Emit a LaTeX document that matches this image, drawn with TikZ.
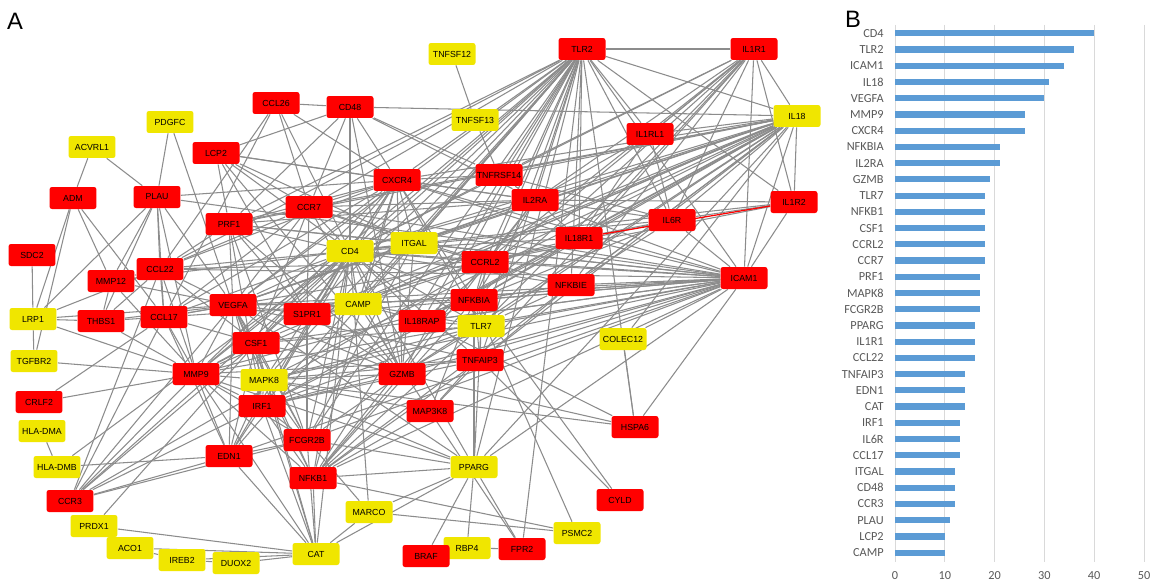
\documentclass[tikz,border=0pt]{standalone}
\usepackage{fontspec}
\usetikzlibrary{backgrounds}
\newfontfamily\netfont{Liberation Sans}
\newfontfamily\barfont{Carlito}
\definecolor{netred}{RGB}{255,0,0}
\definecolor{netyellow}{RGB}{240,230,0}
\definecolor{netgray}{RGB}{140,140,140}
\definecolor{barblue}{RGB}{91,155,213}
\definecolor{gridgray}{RGB}{217,217,217}
\definecolor{labgray}{RGB}{89,89,89}
\tikzset{
  gnode/.style={rectangle, rounded corners=0.05cm, minimum width=0.94cm, minimum height=0.44cm, inner sep=0pt, font=\netfont\fontsize{5pt}{6pt}\selectfont, text=black},
  rnode/.style={gnode, fill=netred},
  ynode/.style={gnode, fill=netyellow},
  netedge/.style={draw=netgray, line width=0.6pt},
  rededge/.style={draw=netred, line width=0.7pt},
  barlab/.style={font=\barfont\fontsize{7pt}{8pt}\selectfont, text=labgray, inner sep=0pt},
  gridline/.style={draw=gridgray, line width=0.5pt},
  panel/.style={font=\netfont\fontsize{13.5pt}{15pt}\selectfont, inner sep=0pt}
}
\begin{document}
\begin{tikzpicture}[x=0.02cm,y=-0.02cm]
\useasboundingbox (0,0) rectangle (1151,581);
\node[panel] (pA) at (15,21) {A};
\node[panel] (pB) at (853,19) {B};
% ---------- nodes ----------
\node[ynode] (TNFSF12) at (452,54) {TNFSF12};
\node[rnode] (TLR2) at (582,49) {TLR2};
\node[rnode] (IL1R1) at (754,49) {IL1R1};
\node[ynode] (PDGFC) at (170,122) {PDGFC};
\node[rnode] (CCL26) at (276,103) {CCL26};
\node[rnode] (CD48) at (350,107) {CD48};
\node[ynode] (TNFSF13) at (475,120) {TNFSF13};
\node[ynode] (IL18) at (797,116) {IL18};
\node[rnode] (IL1RL1) at (650,134) {IL1RL1};
\node[ynode] (ACVRL1) at (92,147) {ACVRL1};
\node[rnode] (LCP2) at (216,153) {LCP2};
\node[rnode] (CXCR4) at (397,180) {CXCR4};
\node[rnode] (TNFRSF14) at (499,175) {TNFRSF14};
\node[rnode] (ADM) at (73,198) {ADM};
\node[rnode] (PLAU) at (157,197) {PLAU};
\node[rnode] (PRF1) at (229,224) {PRF1};
\node[rnode] (CCR7) at (309,207) {CCR7};
\node[rnode] (IL2RA) at (535,200) {IL2RA};
\node[rnode] (IL6R) at (672,220) {IL6R};
\node[rnode] (IL1R2) at (794,202) {IL1R2};
\node[rnode] (IL18R1) at (579,238) {IL18R1};
\node[ynode] (CD4) at (350,251) {CD4};
\node[ynode] (ITGAL) at (414,243) {ITGAL};
\node[rnode] (SDC2) at (32,255) {SDC2};
\node[rnode] (CCL22) at (160,269) {CCL22};
\node[rnode] (MMP12) at (111,281) {MMP12};
\node[rnode] (CCRL2) at (485,262) {CCRL2};
\node[rnode] (ICAM1) at (744,278) {ICAM1};
\node[rnode] (NFKBIE) at (571,285) {NFKBIE};
\node[ynode] (CAMP) at (358,304) {CAMP};
\node[rnode] (NFKBIA) at (474,300) {NFKBIA};
\node[rnode] (VEGFA) at (233,305) {VEGFA};
\node[rnode] (S1PR1) at (307,314) {S1PR1};
\node[ynode] (LRP1) at (33,319) {LRP1};
\node[rnode] (THBS1) at (101,321) {THBS1};
\node[rnode] (CCL17) at (164,317) {CCL17};
\node[rnode] (IL18RAP) at (422,321) {IL18RAP};
\node[ynode] (TLR7) at (481,326) {TLR7};
\node[ynode] (COLEC12) at (623,339) {COLEC12};
\node[rnode] (TNFAIP3) at (480,360) {TNFAIP3};
\node[ynode] (TGFBR2) at (34,361) {TGFBR2};
\node[rnode] (CSF1) at (256,343) {CSF1};
\node[rnode] (MMP9) at (196,374) {MMP9};
\node[ynode] (MAPK8) at (264,380) {MAPK8};
\node[rnode] (GZMB) at (402,374) {GZMB};
\node[rnode] (CRLF2) at (39,402) {CRLF2};
\node[rnode] (IRF1) at (262,406) {IRF1};
\node[rnode] (MAP3K8) at (430,411) {MAP3K8};
\node[rnode] (HSPA6) at (635,427) {HSPA6};
\node[ynode] (HLADMA) at (42,431) {HLA-DMA};
\node[rnode] (FCGR2B) at (307,440) {FCGR2B};
\node[rnode] (EDN1) at (229,456) {EDN1};
\node[ynode] (HLADMB) at (57,467) {HLA-DMB};
\node[rnode] (NFKB1) at (313,478) {NFKB1};
\node[ynode] (PPARG) at (474,467) {PPARG};
\node[rnode] (CCR3) at (70,501) {CCR3};
\node[rnode] (CYLD) at (620,500) {CYLD};
\node[ynode] (MARCO) at (369,512) {MARCO};
\node[ynode] (PRDX1) at (94,526) {PRDX1};
\node[ynode] (PSMC2) at (577,533) {PSMC2};
\node[ynode] (ACO1) at (130,548) {ACO1};
\node[ynode] (IREB2) at (182,560) {IREB2};
\node[ynode] (DUOX2) at (236,563) {DUOX2};
\node[ynode] (CAT) at (316,554) {CAT};
\node[ynode] (RBP4) at (467,548) {RBP4};
\node[rnode] (BRAF) at (426,556) {BRAF};
\node[rnode] (FPR2) at (522,549) {FPR2};
% ---------- edges ----------
\begin{pgfonlayer}{background}
\fill[white] (0,0) rectangle (1151,581);
\foreach \a/\b in {%
TLR2/IL1R1, TLR2/IL18, TLR2/IL1RL1, TLR2/IL1R2, TLR2/ICAM1, TLR2/IL6R, TLR2/IL18R1, TLR2/IL2RA, TLR2/TNFRSF14, TLR2/CXCR4, TLR2/CCR7, TLR2/PRF1, TLR2/CD4, TLR2/ITGAL, TLR2/CCRL2, TLR2/NFKBIA, TLR2/NFKBIE, TLR2/VEGFA, TLR2/CAMP, TLR2/S1PR1, TLR2/IL18RAP, TLR2/TLR7, TLR2/TNFAIP3, TLR2/CSF1, TLR2/MMP9, TLR2/MAPK8, TLR2/GZMB, TLR2/IRF1, TLR2/FCGR2B, TLR2/NFKB1, TLR2/EDN1, TLR2/PPARG, TLR2/FPR2, TLR2/HSPA6, TLR2/CCL22,
CD4/ICAM1, CD4/IL18, CD4/IL1R1, CD4/ITGAL, CD4/CD48, CD4/CXCR4, CD4/CCR7, CD4/LCP2, CD4/PRF1, CD4/CCL26, CD4/CCL22, CD4/CCL17, CD4/VEGFA, CD4/CSF1, CD4/MMP9, CD4/S1PR1, CD4/CAMP, CD4/IL2RA, CD4/IL18R1, CD4/IL18RAP, CD4/TLR7, CD4/CCRL2, CD4/NFKBIA, CD4/GZMB, CD4/TNFAIP3, CD4/IRF1, CD4/MAPK8, CD4/FCGR2B, CD4/NFKB1, CD4/EDN1, CD4/PPARG, CD4/CCR3, CD4/IL6R, CD4/IL1R2, CD4/NFKBIE, CD4/TNFRSF14, CD4/MARCO, CD4/CAT, CD4/MMP12, CD4/HLADMB,
ICAM1/IL18, ICAM1/IL1R1, ICAM1/IL1R2, ICAM1/IL6R, ICAM1/IL18R1, ICAM1/ITGAL, ICAM1/VEGFA, ICAM1/CCRL2, ICAM1/NFKBIA, ICAM1/NFKBIE, ICAM1/TLR7, ICAM1/IL18RAP, ICAM1/CAMP, ICAM1/S1PR1, ICAM1/MMP9, ICAM1/CSF1, ICAM1/CCL22, ICAM1/CCL17, ICAM1/GZMB, ICAM1/TNFAIP3, ICAM1/COLEC12, ICAM1/PPARG, ICAM1/NFKB1, ICAM1/EDN1, ICAM1/FCGR2B, ICAM1/IRF1, ICAM1/CXCR4, ICAM1/CCR7, ICAM1/PRF1, ICAM1/IL2RA, ICAM1/MAPK8, ICAM1/HSPA6,
IL18/IL1R1, IL18/IL1RL1, IL18/IL18R1, IL18/IL18RAP, IL18/IL2RA, IL18/CCRL2, IL18/NFKBIA, IL18/ITGAL, IL18/CXCR4, IL18/CCR7, IL18/IL1R2, IL18/IL6R, IL18/NFKBIE, IL18/TNFRSF14, IL18/VEGFA, IL18/PRF1, IL18/CSF1, IL18/GZMB, IL18/TLR7, IL18/CAMP, IL18/MMP9, IL18/IRF1, IL18/TNFAIP3, IL18/MAPK8, IL18/NFKB1, IL18/PPARG, IL18/CD48, IL18/S1PR1,
VEGFA/PLAU, VEGFA/PDGFC, VEGFA/CCL22, VEGFA/CCL17, VEGFA/MMP12, VEGFA/THBS1, VEGFA/MMP9, VEGFA/CSF1, VEGFA/CXCR4, VEGFA/CCR7, VEGFA/PRF1, VEGFA/S1PR1, VEGFA/CAMP, VEGFA/NFKBIA, VEGFA/EDN1, VEGFA/IRF1, VEGFA/MAPK8, VEGFA/NFKB1, VEGFA/PPARG, VEGFA/CCR3, VEGFA/TNFAIP3, VEGFA/IL2RA, VEGFA/ITGAL, VEGFA/GZMB, VEGFA/FCGR2B, VEGFA/LRP1,
MMP9/PLAU, MMP9/MMP12, MMP9/THBS1, MMP9/CCL22, MMP9/CCL17, MMP9/CSF1, MMP9/CXCR4, MMP9/EDN1, MMP9/IRF1, MMP9/MAPK8, MMP9/NFKB1, MMP9/NFKBIA, MMP9/PPARG, MMP9/TNFAIP3, MMP9/CCR3, MMP9/TGFBR2, MMP9/LRP1, MMP9/CAT, MMP9/FCGR2B, MMP9/CRLF2, MMP9/S1PR1,
CXCR4/CCR7, CXCR4/CD48, CXCR4/LCP2, CXCR4/CCL26, CXCR4/PRF1, CXCR4/CCL22, CXCR4/CCL17, CXCR4/IL2RA, CXCR4/ITGAL, CXCR4/S1PR1, CXCR4/CAMP, CXCR4/NFKBIA, CXCR4/GZMB, CXCR4/IRF1, CXCR4/NFKB1, CXCR4/TLR7, CXCR4/TNFRSF14, CXCR4/IL18R1, CXCR4/PLAU, CXCR4/CSF1,
NFKBIA/NFKBIE, NFKBIA/TNFAIP3, NFKBIA/NFKB1, NFKBIA/IL1R1, NFKBIA/IL18R1, NFKBIA/IL6R, NFKBIA/TLR7, NFKBIA/CYLD, NFKBIA/PSMC2, NFKBIA/MAP3K8, NFKBIA/IRF1, NFKBIA/PPARG, NFKBIA/CCRL2, NFKBIA/IL2RA,
IL2RA/IL1R1, IL2RA/IL18R1, IL2RA/IL1RL1, IL2RA/IL6R, IL2RA/IL1R2, IL2RA/CCR7, IL2RA/PRF1, IL2RA/GZMB, IL2RA/LCP2, IL2RA/ITGAL, IL2RA/CD48, IL2RA/TNFRSF14, IL2RA/NFKB1,
GZMB/PRF1, GZMB/CD48, GZMB/LCP2, GZMB/CCR7, GZMB/ITGAL, GZMB/IRF1, GZMB/NFKB1, GZMB/CSF1, GZMB/TLR7, GZMB/FCGR2B, GZMB/S1PR1, GZMB/MAPK8, GZMB/HSPA6,
TLR7/IL1R1, TLR7/IRF1, TLR7/NFKB1, TLR7/MAPK8, TLR7/TNFAIP3, TLR7/CAMP, TLR7/IL18RAP, TLR7/CCRL2, TLR7/CSF1, TLR7/PPARG, TLR7/NFKBIE,
NFKB1/MAPK8, NFKB1/IRF1, NFKB1/CAT, NFKB1/PPARG, NFKB1/MAP3K8, NFKB1/PSMC2, NFKB1/TNFAIP3,
CSF1/CCL22, CSF1/CCL17, CSF1/CCR7, CSF1/EDN1, CSF1/IRF1, CSF1/FCGR2B, CSF1/MAPK8, CSF1/CAT, CSF1/CCR3, CSF1/PRDX1,
CCRL2/CCR7, CCRL2/CCL22, CCRL2/CCL17, CCRL2/IL1R1, CCRL2/IL18R1, CCRL2/IL6R, CCRL2/CCR3, CCRL2/ITGAL, CCRL2/CAMP, CCRL2/S1PR1, CCRL2/IL1R2, CCRL2/NFKBIE,
CCR7/CCL22, CCR7/CCL17, CCR7/LCP2, CCR7/CCL26, CCR7/CD48, CCR7/PRF1, CCR7/S1PR1, CCR7/ITGAL,
PRF1/LCP2, PRF1/CD48, PRF1/ITGAL, PRF1/IRF1, PRF1/S1PR1, PRF1/CCL22, PRF1/FCGR2B,
MAPK8/IRF1, MAPK8/EDN1, MAPK8/CAT, MAPK8/PPARG, MAPK8/MAP3K8, MAPK8/TNFAIP3, MAPK8/FCGR2B,
FCGR2B/IRF1, FCGR2B/EDN1, FCGR2B/CAT, FCGR2B/PPARG, FCGR2B/CCR3, FCGR2B/S1PR1, FCGR2B/MARCO, FCGR2B/ITGAL,
PPARG/MARCO, PPARG/BRAF, PPARG/RBP4, PPARG/FPR2, PPARG/CAT,
IL1R1/IL1RL1, IL1R1/IL18R1, IL1R1/IL1R2, IL1R1/IL6R, IL1R1/TNFRSF14, IL1R1/IL18RAP, IL1R1/MAP3K8, IL1R1/NFKBIE,
CCL22/CCL17, CCL22/MMP12, CCL22/PLAU, CCL22/THBS1, CCL22/CCR3, CCL22/LRP1, CCL22/CCL26,
TNFAIP3/CYLD, TNFAIP3/IRF1, TNFAIP3/MAP3K8, TNFAIP3/NFKBIE,
EDN1/CCR3, EDN1/IRF1, EDN1/CAT, EDN1/CCL17, EDN1/HLADMB,
CAT/PRDX1, CAT/ACO1, CAT/IREB2, CAT/DUOX2, CAT/MARCO, CAT/IRF1, IRF1/CCR3,
IL6R/IL1R2, IL6R/IL18R1, IL6R/IL1RL1, IL6R/NFKBIE, IL6R/TNFRSF14,
CCL17/THBS1, CCL17/PLAU, CCL17/ADM, CCL17/CRLF2, CCL17/CCR3, CCL17/CCL26,
CD48/LCP2, CD48/CCL26, CD48/TNFRSF14,
PLAU/ACVRL1, PLAU/PDGFC, PLAU/MMP12, PLAU/THBS1, PLAU/LRP1, PLAU/ICAM1,
ACVRL1/ADM, TNFSF12/TNFSF13, TNFSF13/TNFRSF14, SDC2/LRP1, LRP1/THBS1, LRP1/ADM, LRP1/TGFBR2, ADM/TGFBR2, ADM/MMP12, MMP12/THBS1, HLADMA/HLADMB, ACO1/IREB2, IREB2/DUOX2, RBP4/FPR2, HSPA6/MAPK8, HSPA6/IL18RAP, COLEC12/HSPA6, COLEC12/IL18, IL18R1/IL18RAP, IL18R1/IL1RL1, LCP2/S1PR1, LCP2/ITGAL, CAMP/S1PR1, CAMP/IL18RAP, FPR2/CAMP, MARCO/PSMC2%
} { \draw[netedge] (\a) -- (\b); }
\draw[rededge] (IL18R1) -- (IL1R2);
\end{pgfonlayer}
% ---------- panel B ----------
\foreach \k/\t in {0/0,1/10,2/20,3/30,4/40,5/50} {
  \draw[gridline] ({895+49.8*\k},25) -- ({895+49.8*\k},562);
  \node[barlab] (tick\k) at ({895+49.8*\k},576) {\t};
}
\foreach \n/\v [count=\i from 0] in {CD4/40, TLR2/36, ICAM1/34, IL18/31, VEGFA/30, MMP9/26, CXCR4/26, NFKBIA/21, IL2RA/21, GZMB/19, TLR7/18, NFKB1/18, CSF1/18, CCRL2/18, CCR7/18, PRF1/17, MAPK8/17, FCGR2B/17, PPARG/16, IL1R1/16, CCL22/16, TNFAIP3/14, EDN1/14, CAT/14, IRF1/13, IL6R/13, CCL17/13, ITGAL/12, CD48/12, CCR3/12, PLAU/11, LCP2/10, CAMP/10} {
  \pgfmathsetmacro\yy{33.3+16.23*\i}
  \fill[barblue] (895,{\yy-3.1}) rectangle ({895+4.98*\v},{\yy+3.1});
  \node[barlab, anchor=east] (bl\i) at (884,\yy) {\n};
}
\end{tikzpicture}
\end{document}
